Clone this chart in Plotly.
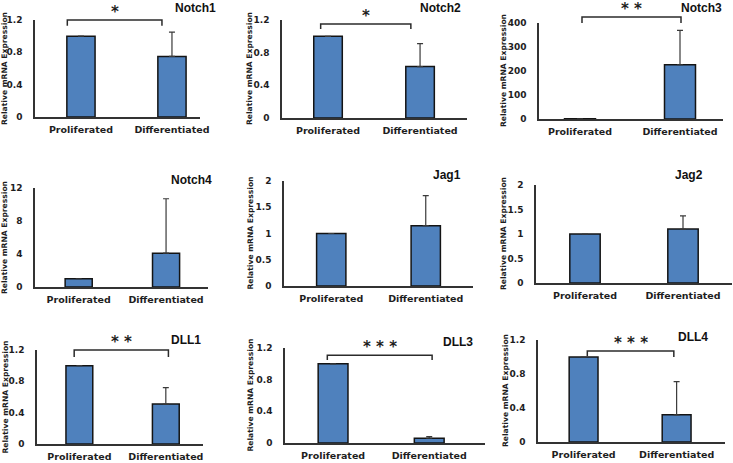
import plotly.graph_objects as go

W, H = 733, 463

genes = ["Notch1", "Notch2", "Notch3", "Notch4", "Jag1", "Jag2", "DLL1", "DLL3", "DLL4"]
categories = ["Proliferated", "Differentiated"]
proliferated = [1.0, 1.0, 1.0, 1.0, 1.0, 1.0, 1.0, 1.0, 1.0]
differentiated = [0.75, 0.63, 226, 4.1, 1.15, 1.10, 0.51, 0.06, 0.32]
differentiated_err = [0.30, 0.28, 143, 6.6, 0.57, 0.27, 0.21, 0.02, 0.39]
y_max = [1.2, 1.2, 400, 12, 2, 2, 1.2, 1.2, 1.2]
y_dtick = [0.4, 0.4, 100, 4, 0.5, 0.5, 0.4, 0.4, 0.4]
significance = ["*", "*", "* *", "", "", "", "* *", "* * *", "* * *"]

# layout (pixels): axis left, axis right, y-top (ymax), y-bottom (0)
panels = [
    dict(L=35, R=200, T=20, B=117, xr=[-0.505, 1.308]),
    dict(L=282, R=467, T=20, B=118, xr=[-0.5, 1.51]),
    dict(L=539, R=723, T=23, B=119, xr=[-0.41, 1.43]),
    dict(L=35, R=208, T=188, B=287, xr=[-0.5, 1.48]),
    dict(L=284, R=473, T=181, B=286, xr=[-0.5, 1.5]),
    dict(L=536, R=732, T=185, B=283, xr=[-0.5, 1.5]),
    dict(L=37, R=203, T=350, B=444, xr=[-0.49, 1.43]),
    dict(L=285, R=485, T=348, B=443, xr=[-0.5, 1.58]),
    dict(L=538, R=725, T=340, B=442, xr=[-0.49, 1.52]),
]
# title centre (px), y-title x (px)
titles_px = [(195, 8), (440, 8), (701, 8), (191, 180), (447, 175), (689, 175),
             (186, 340), (458, 342), (693, 337)]
ytitle_x = [4.5, 249, 503, 4.5, 250, 503, 4.5, 250, 505]
# brackets: x-left, x-right (category units), top, left leg end, right leg end (value units)
brackets = [
    (-0.15, 0.89, 1.2, 1.13, 1.13),
    (-0.08, 0.90, 1.15, 1.09, 1.09),
    (0.02, 1.01, 425, 400, 400),
    None, None, None,
    (-0.06, 1.03, 1.2, 1.11, 1.11),
    (-0.06, 1.03, 1.11, 1.05, 1.05),
    (0.04, 0.97, 1.07, 1.01, 1.0),
]

BAR = "#4F81BD"
DARK = "#2b2b2b"
TXT = "#1e1e1e"


def to_paper(p, xv, yv, ymax):
    px = p["L"] + (xv - p["xr"][0]) / (p["xr"][1] - p["xr"][0]) * (p["R"] - p["L"])
    py = p["B"] - yv / ymax * (p["B"] - p["T"])
    return px / W, 1 - py / H


fig = go.Figure()
layout = dict(width=W, height=H, margin=dict(l=0, r=0, t=0, b=0),
              paper_bgcolor="white", plot_bgcolor="white", showlegend=False,
              annotations=[], shapes=[])

for i, g in enumerate(genes):
    p = panels[i]
    ax = "" if i == 0 else str(i + 1)
    xa, ya = "x" + ax, "y" + ax
    fig.add_trace(go.Bar(
        x=[0, 1], y=[proliferated[i], differentiated[i]],
        width=0.31, marker=dict(color=BAR, line=dict(color="#141414", width=1.5)),
        error_y=dict(type="data", symmetric=False, array=[0, differentiated_err[i]],
                     arrayminus=[0, 0], color="#3a3a3a", thickness=1.2, width=3),
        xaxis=xa, yaxis=ya, hoverinfo="skip", cliponaxis=False))
    layout["xaxis" + ax] = dict(
        domain=[p["L"] / W, p["R"] / W], range=p["xr"], anchor=ya, automargin=False,
        tickvals=[0, 1], ticktext=categories, showgrid=False, zeroline=False,
        showline=True, linecolor="#333333", linewidth=1.5, ticks="",
        ticklabelstandoff=3,
        tickfont=dict(family="DejaVu Sans", size=9.5, color=TXT, weight="bold"),
        fixedrange=True)
    layout["yaxis" + ax] = dict(
        domain=[1 - p["B"] / H, 1 - p["T"] / H], range=[0, y_max[i]], anchor=xa,
        automargin=False, dtick=y_dtick[i], tick0=0, showgrid=False, zeroline=False,
        showline=True, linecolor="#333333", linewidth=1.5, ticks="",
        ticklabelstandoff=9,
        tickfont=dict(family="DejaVu Sans", size=9, color=TXT, weight="bold"),
        fixedrange=True)
    # panel title
    tx, ty = titles_px[i]
    layout["annotations"].append(dict(
        text="<b>%s</b>" % g, x=tx / W, y=1 - ty / H, xref="paper", yref="paper",
        xanchor="center", yanchor="middle", showarrow=False,
        font=dict(family="Liberation Sans", size=12, color="#111111")))
    # y-axis title
    layout["annotations"].append(dict(
        text="<b>Relative mRNA Expression</b>", x=ytitle_x[i] / W,
        y=1 - ((p["T"] + p["B"]) / 2) / H, xref="paper", yref="paper",
        xanchor="center", yanchor="middle", textangle=-90, showarrow=False,
        font=dict(family="DejaVu Sans", size=7.6, color=TXT)))
    b = brackets[i]
    if b:
        x0, x1, yt, yl, yr = b
        pts = [to_paper(p, x0, yl, y_max[i]), to_paper(p, x0, yt, y_max[i]),
               to_paper(p, x1, yt, y_max[i]), to_paper(p, x1, yr, y_max[i])]
        path = "M " + " L ".join("%f,%f" % q for q in pts)
        layout["shapes"].append(dict(type="path", path=path, xref="paper", yref="paper",
                                     line=dict(color=DARK, width=1.5)))
        sx, sy = to_paper(p, (x0 + x1) / 2, yt, y_max[i])
        layout["annotations"].append(dict(
            text="<b>%s</b>" % significance[i], x=sx, y=sy, xref="paper", yref="paper",
            xanchor="center", yanchor="bottom", showarrow=False, yshift=-3,
            font=dict(family="DejaVu Sans", size=15, color=TXT)))

fig.update_layout(**layout)
fig.write_html("out.html", config={"displayModeBar": False},
               post_script="document.body.style.margin='0';document.body.style.overflow='hidden';")
